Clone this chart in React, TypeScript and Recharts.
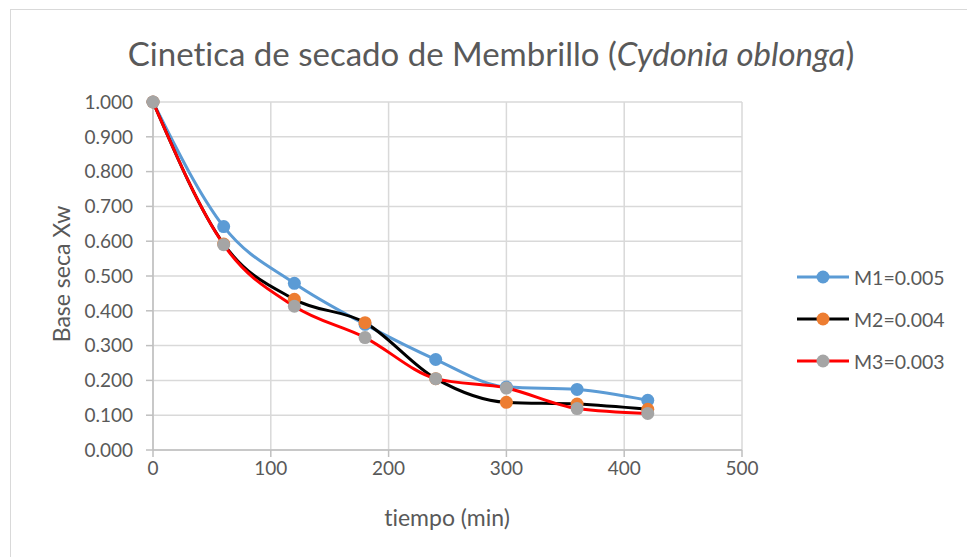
import { CartesianGrid, Line, LineChart, XAxis, YAxis } from "recharts";

const tiempos = [0, 60, 120, 180, 240, 300, 360, 420];
const m1 = [1.0, 0.642, 0.479, 0.361, 0.26, 0.181, 0.174, 0.143];
const m2 = [1.0, 0.592, 0.433, 0.366, 0.205, 0.137, 0.132, 0.117];
const m3 = [1.0, 0.59, 0.413, 0.323, 0.205, 0.178, 0.119, 0.105];
const xTicks = [0, 100, 200, 300, 400, 500];
const yTicks = [0, 0.1, 0.2, 0.3, 0.4, 0.5, 0.6, 0.7, 0.8, 0.9, 1.0];

const series = [
  { key: "m1", name: "M1=0.005", stroke: "#5B9BD5", fill: "#5B9BD5" },
  { key: "m2", name: "M2=0.004", stroke: "#000000", fill: "#ED7D31" },
  { key: "m3", name: "M3=0.003", stroke: "#FF0000", fill: "#A5A5A5" }
];

const data = tiempos.map((t, i) => ({ t, m1: m1[i], m2: m2[i], m3: m3[i] }));

const font = "Lato, 'Open Sans', sans-serif";
const textColor = "#595959";

function LegendBox() {
  return (
    <div style={{ position: "absolute", left: 797, top: 256, fontFamily: font, fontSize: 19.5, color: textColor }}>
      {series.map((s) => (
        <div key={s.key} style={{ display: "flex", alignItems: "center", height: 42 }}>
          <svg width={52} height={16} style={{ marginRight: 5 }}>
            <line x1={0} y1={8} x2={52} y2={8} stroke={s.stroke} strokeWidth={3} />
            <circle cx={26} cy={8} r={6.5} fill={s.fill} />
          </svg>
          <span>{s.name}</span>
        </div>
      ))}
    </div>
  );
}

export default function App() {
  return (
    <div
      style={{
        position: "absolute",
        left: 0,
        top: 0,
        width: 967,
        height: 557,
        background: "#fff",
        overflow: "hidden",
        fontVariantLigatures: "none"
      }}
    >
      <div style={{ position: "absolute", left: 10, top: 9, width: 970, height: 560, border: "1px solid #d9d9d9" }} />
      <div
        style={{
          position: "absolute",
          left: 0,
          top: 33,
          width: 982,
          textAlign: "center",
          fontFamily: font,
          fontSize: 33,
          color: textColor
        }}
      >
        Cinetica de secado de Membrillo (<i>Cydonia oblonga</i>)
      </div>
      <div
        style={{
          position: "absolute",
          left: 447 - 100,
          top: 503,
          width: 200,
          textAlign: "center",
          fontFamily: font,
          fontSize: 23,
          color: textColor
        }}
      >
        tiempo (min)
      </div>
      <div
        style={{
          position: "absolute",
          left: 61 - 100,
          top: 275 - 15,
          width: 200,
          textAlign: "center",
          fontFamily: font,
          fontSize: 23,
          color: textColor,
          transform: "rotate(-90deg)"
        }}
      >
        Base seca Xw
      </div>
      <div style={{ position: "absolute", left: 0, top: 0 }}>
        <LineChart width={967} height={557} data={data} margin={{ top: 102, right: 225, bottom: 77, left: 93 }}>
          <CartesianGrid stroke="#d9d9d9" strokeWidth={1.5} />
          <XAxis
            dataKey="t"
            type="number"
            domain={[0, 500]}
            ticks={xTicks}
            height={30}
            stroke="#bfbfbf"
            strokeWidth={1.5}
            tickSize={7}
            tickMargin={5}
            tick={{ fill: textColor, fontSize: 19, fontFamily: font }}
          />
          <YAxis
            type="number"
            domain={[0, 1]}
            ticks={yTicks}
            width={60}
            stroke="#bfbfbf"
            strokeWidth={1.5}
            tickSize={7}
            tickMargin={13}
            tickFormatter={(v: number) => v.toFixed(3)}
            tick={{ fill: textColor, fontSize: 19, fontFamily: font }}
            interval={0}
          />
          {series.map((s) => (
            <Line
              key={s.key}
              dataKey={s.key}
              name={s.name}
              type="monotone"
              stroke={s.stroke}
              strokeWidth={3}
              dot={{ r: 6.5, fill: s.fill, stroke: "none" }}
              activeDot={false}
              isAnimationActive={false}
            />
          ))}
        </LineChart>
      </div>
      <LegendBox />
    </div>
  );
}
